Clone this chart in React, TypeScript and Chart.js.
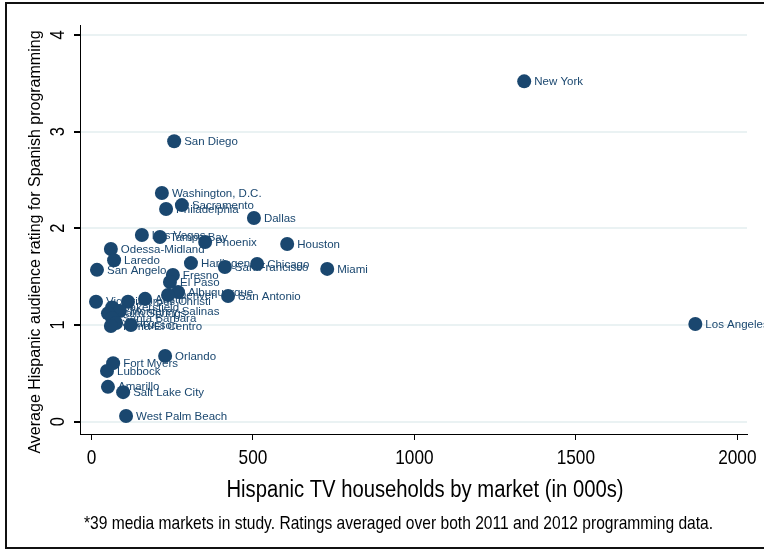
import React, { useEffect, useRef } from "react";
import { Chart, registerables } from "chart.js";

Chart.register(...registerables);

const markets = [
  "New York", "Los Angeles", "San Diego", "Washington, D.C.", "Sacramento", "Philadelphia",
  "Dallas", "Las Vegas", "Tampa Bay", "Phoenix", "Houston", "Odessa-Midland", "Laredo",
  "San Angelo", "Harlingen", "San Francisco", "Chicago", "Miami", "Fresno", "El Paso",
  "Albuquerque", "Denver", "San Antonio", "Austin", "Corpus Christi", "Victoria",
  "Bakersfield", "Monterey-Salinas", "Palm Springs", "Santa Barbara", "Waco",
  "Yuma-El Centro", "Tucson", "Orlando", "Fort Myers", "Lubbock", "Amarillo",
  "Salt Lake City", "West Palm Beach",
];

const households = [
  1340, 1870, 256, 218, 280, 231,
  503, 156, 212, 352, 606, 60, 70,
  17, 308, 413, 513, 730, 252, 243,
  268, 237, 423, 166, 113, 14,
  64, 88, 51, 64, 76,
  60, 122, 228, 67, 48, 51,
  98, 107,
];

const ratings = [
  3.52, 1.01, 2.9, 2.365, 2.24, 2.2,
  2.106, 1.93, 1.91, 1.858, 1.837, 1.786, 1.67,
  1.57, 1.64, 1.6, 1.63, 1.58, 1.517, 1.445,
  1.34, 1.31, 1.3, 1.27, 1.24, 1.24,
  1.18, 1.145, 1.12, 1.07, 1.02,
  0.99, 1.0, 0.68, 0.605, 0.525, 0.36,
  0.305, 0.058,
];

const xTicks = [0, 500, 1000, 1500, 2000];
const yTicks = [0, 1, 2, 3, 4];

const xTitle = "Hispanic TV households by market (in 000s)";
const yTitle = "Average Hispanic audience rating for Spanish programming";
const note = "*39 media markets in study. Ratings averaged over both 2011 and 2012 programming data.";

const NAVY = "#1a476f";
const GRID = "#eaf2f3";
const SANS = '"Liberation Sans", Arial, "DejaVu Sans", sans-serif';
const NARROW = 0.82;

function narrowText(ctx: CanvasRenderingContext2D, text: string, x: number, y: number, size: number, align: CanvasTextAlign, rot = 0) {
  ctx.save();
  ctx.translate(x, y);
  if (rot) ctx.rotate(rot);
  ctx.scale(NARROW, 1);
  ctx.font = `${size}px ${SANS}`;
  ctx.textAlign = align;
  ctx.textBaseline = "middle";
  ctx.fillText(text, 0, 0);
  ctx.restore();
}

const textPlugin = {
  id: "stataTexts",
  beforeDraw(chart: any) {
    const ctx = chart.ctx;
    ctx.save();
    ctx.fillStyle = "#ffffff";
    ctx.fillRect(0, 0, chart.width, chart.height);
    ctx.restore();
  },
  beforeDatasetsDraw(chart: any) {
    const ctx = chart.ctx;
    const meta = chart.getDatasetMeta(0);
    ctx.save();
    ctx.font = `11.5px ${SANS}`;
    ctx.fillStyle = NAVY;
    ctx.textAlign = "left";
    ctx.textBaseline = "middle";
    meta.data.forEach((el: any, i: number) => {
      ctx.fillText(markets[i], el.x + 10, el.y + 0.5);
    });
    ctx.restore();
  },
  afterDraw(chart: any) {
    const ctx = chart.ctx;
    const xs = chart.scales.x;
    const ys = chart.scales.y;
    ctx.save();
    ctx.fillStyle = "#000000";
    xs.ticks.forEach((t: any) => {
      narrowText(ctx, String(t.value), xs.getPixelForValue(t.value), 458, 21, "center");
    });
    ys.ticks.forEach((t: any) => {
      narrowText(ctx, String(t.value), 58, ys.getPixelForValue(t.value), 20, "center", -Math.PI / 2);
    });
    narrowText(ctx, xTitle, 425, 490, 24.7, "center");
    narrowText(ctx, note, 84, 524, 19, "left");
    ctx.save();
    ctx.translate(36, 242);
    ctx.rotate(-Math.PI / 2);
    ctx.font = `16px ${SANS}`;
    ctx.textAlign = "center";
    ctx.textBaseline = "middle";
    ctx.fillText(yTitle, 0, 0);
    ctx.restore();
    ctx.strokeStyle = "#111111";
    ctx.lineWidth = 2;
    ctx.strokeRect(6, 3, 770, 545);
    ctx.restore();
  },
};

export default function App() {
  const ref = useRef<HTMLCanvasElement>(null);
  useEffect(() => {
    document.body.style.margin = "0";
    const chart = new Chart(ref.current as HTMLCanvasElement, {
      type: "scatter",
      data: {
        datasets: [
          {
            data: households.map((h, i) => ({ x: h, y: ratings[i] })),
            backgroundColor: NAVY,
            borderColor: NAVY,
            borderWidth: 0,
            pointRadius: 7,
            pointHoverRadius: 7,
          },
        ],
      },
      options: {
        animation: false,
        responsive: false,
        devicePixelRatio: 1,
        layout: { padding: { top: 25, right: 17, left: 0, bottom: 0 } },
        plugins: { legend: { display: false }, tooltip: { enabled: false } },
        scales: {
          x: {
            type: "linear",
            min: -35.6,
            max: 2030,
            afterBuildTicks: (s: any) => { s.ticks = xTicks.map((v) => ({ value: v })); },
            afterFit: (s: any) => { s.height = 122; },
            ticks: { display: false },
            grid: { drawOnChartArea: false, drawTicks: true, tickLength: 6, tickColor: "#000", lineWidth: 1 },
            border: { display: true, color: "#000", width: 1 },
          },
          y: {
            type: "linear",
            min: -0.128,
            max: 4.103,
            afterBuildTicks: (s: any) => { s.ticks = yTicks.map((v) => ({ value: v })); },
            afterFit: (s: any) => { s.width = 80; },
            ticks: { display: false },
            grid: { drawOnChartArea: true, color: GRID, lineWidth: 2, drawTicks: true, tickLength: 6, tickColor: "#000" },
            border: { display: true, color: "#000", width: 1 },
          },
        },
      },
      plugins: [textPlugin],
    });
    return () => chart.destroy();
  }, []);
  return (
    <div style={{ position: "absolute", left: 0, top: 0, width: 764, height: 556 }}>
      <canvas ref={ref} width={764} height={556} />
    </div>
  );
}
